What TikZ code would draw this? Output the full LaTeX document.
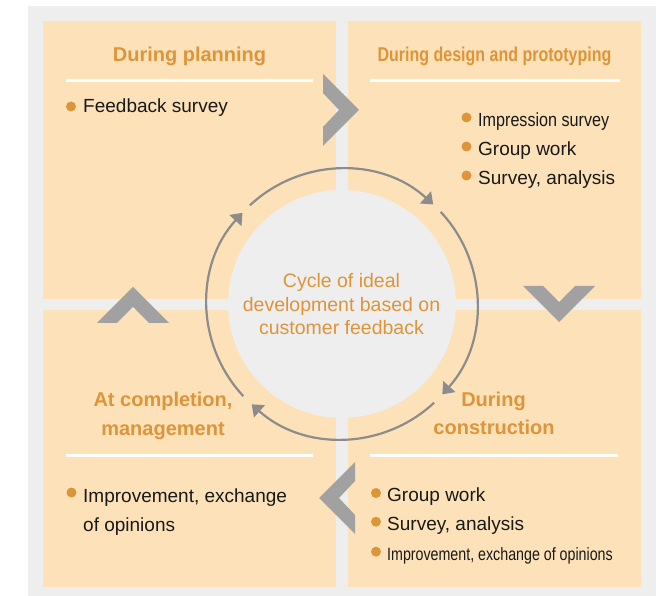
\documentclass[tikz,border=0pt]{standalone}
\usepackage{fontspec}
\setmainfont{Liberation Sans}
\newfontfamily\condA[FakeStretch=0.80]{Liberation Sans}
\newfontfamily\condB[FakeStretch=0.85]{Liberation Sans}
\newfontfamily\condC[FakeStretch=0.80]{Liberation Sans}
\usetikzlibrary{arrows.meta}
\definecolor{bggrey}{RGB}{238,238,238}
\definecolor{panelfill}{RGB}{253,226,185}
\definecolor{orng}{RGB}{222,148,56}
\definecolor{chevgrey}{RGB}{160,161,160}
\definecolor{ringgrey}{RGB}{140,140,140}
\definecolor{txt}{RGB}{25,25,25}
\begin{document}
\begin{tikzpicture}[x=1pt,y=1pt,
  panelbox/.style={fill=panelfill,draw=none},
  sepline/.style={draw=white,line width=3pt},
  chevron/.style={fill=chevgrey,draw=none},
  ringarc/.style={draw=ringgrey,line width=2.2pt,-{Triangle[length=10.5pt,width=16pt]}},
  titletext/.style={inner sep=0pt,anchor=base,text=orng,font=\fontsize{20}{24}\selectfont\bfseries},
  bodytext/.style={inner sep=0pt,anchor=base west,text=txt,font=\fontsize{19}{23}\selectfont},
  centertext/.style={inner sep=0pt,anchor=base,text=orng,font=\fontsize{19.5}{23}\selectfont},
  bulletdot/.style={circle,fill=orng,draw=none,inner sep=0pt,minimum size=10pt}
]
\useasboundingbox (0,0) rectangle (665,-596);
% background
\fill[bggrey] (28,-6) rectangle (656,-596);
% panels
\fill[panelbox] (43,-21) rectangle (336,-299);
\fill[panelbox] (348,-21) rectangle (641,-299);
\fill[panelbox] (43,-310) rectangle (336,-587);
\fill[panelbox] (348,-310) rectangle (641,-587);
% separator lines
\draw[sepline] (66,-81) -- (313,-81);
\draw[sepline] (370,-81) -- (620,-81);
\draw[sepline] (66,-456) -- (313,-456);
\draw[sepline] (370,-456) -- (618,-456);
% centre circle
\coordinate (c) at (342,-304);
\fill[bggrey] (c) circle[radius=114];
% ring arrows
\draw[ringarc] (c) ++(133:135) arc[start angle=133,end angle=47.5,radius=135];
\draw[ringarc] (c) ++(43:135) arc[start angle=43,end angle=-42,radius=135];
\draw[ringarc] (c) ++(-47:135) arc[start angle=-47,end angle=-132,radius=135];
\draw[ringarc] (c) ++(-137:135) arc[start angle=-137,end angle=-222.5,radius=135];
% chevrons
\fill[chevron] (323,-74) -- (359,-110) -- (323,-146) -- (323,-127) -- (339,-110) -- (323,-93) -- cycle;
\fill[chevron] (523,-286) -- (543,-286) -- (559,-302) -- (575,-286) -- (595,-286) -- (559,-322) -- cycle;
\fill[chevron] (133,-287) -- (169,-323) -- (149,-323) -- (133,-307) -- (117,-323) -- (97,-323) -- cycle;
\fill[chevron] (355,-462) -- (355,-481) -- (339,-498) -- (355,-515) -- (355,-534) -- (319,-498) -- cycle;
% titles
\node[titletext] (t1) at (189.5,-62) {During planning};
\node[titletext,font=\condA\fontsize{20}{24}\selectfont\bfseries] (t2) at (494.5,-62) {During design and prototyping};
\node[titletext] (t3a) at (163,-407) {At completion,};
\node[titletext] (t3b) at (163,-436) {management};
\node[titletext] (t4a) at (493.5,-407) {During};
\node[titletext] (t4b) at (494,-435) {construction};
% centre text
\node[centertext] (c1) at (341.5,-288) {Cycle of ideal};
\node[centertext] (c2) at (341.5,-311.5) {development based on};
\node[centertext] (c3) at (341.5,-335) {customer feedback};
% top-left items
\node[bulletdot] (b1) at (71,-106.5) {};
\node[bodytext] (i1) at (83,-112.5) {Feedback survey};
% top-right items
\node[bulletdot] (b2) at (466.5,-117.5) {};
\node[bodytext,font=\condB\fontsize{19}{23}\selectfont] (i2) at (478,-127) {Impression survey};
\node[bulletdot] (b3) at (466.5,-146.5) {};
\node[bodytext] (i3) at (478,-156) {Group work};
\node[bulletdot] (b4) at (466.5,-175.5) {};
\node[bodytext] (i4) at (478,-185) {Survey, analysis};
% bottom-left items
\node[bulletdot] (b5) at (71.5,-492.5) {};
\node[bodytext] (i5a) at (83,-502) {Improvement, exchange};
\node[bodytext] (i5b) at (83,-531.5) {of opinions};
% bottom-right items
\node[bulletdot] (b6) at (376,-493) {};
\node[bodytext] (i6) at (387,-501.7) {Group work};
\node[bulletdot] (b7) at (376,-521.7) {};
\node[bodytext] (i7) at (387,-530.7) {Survey, analysis};
\node[bulletdot] (b8) at (376,-551.7) {};
\node[bodytext,font=\condC\fontsize{17.8}{22}\selectfont] (i8) at (387,-560) {Improvement, exchange of opinions};
\end{tikzpicture}
\end{document}
